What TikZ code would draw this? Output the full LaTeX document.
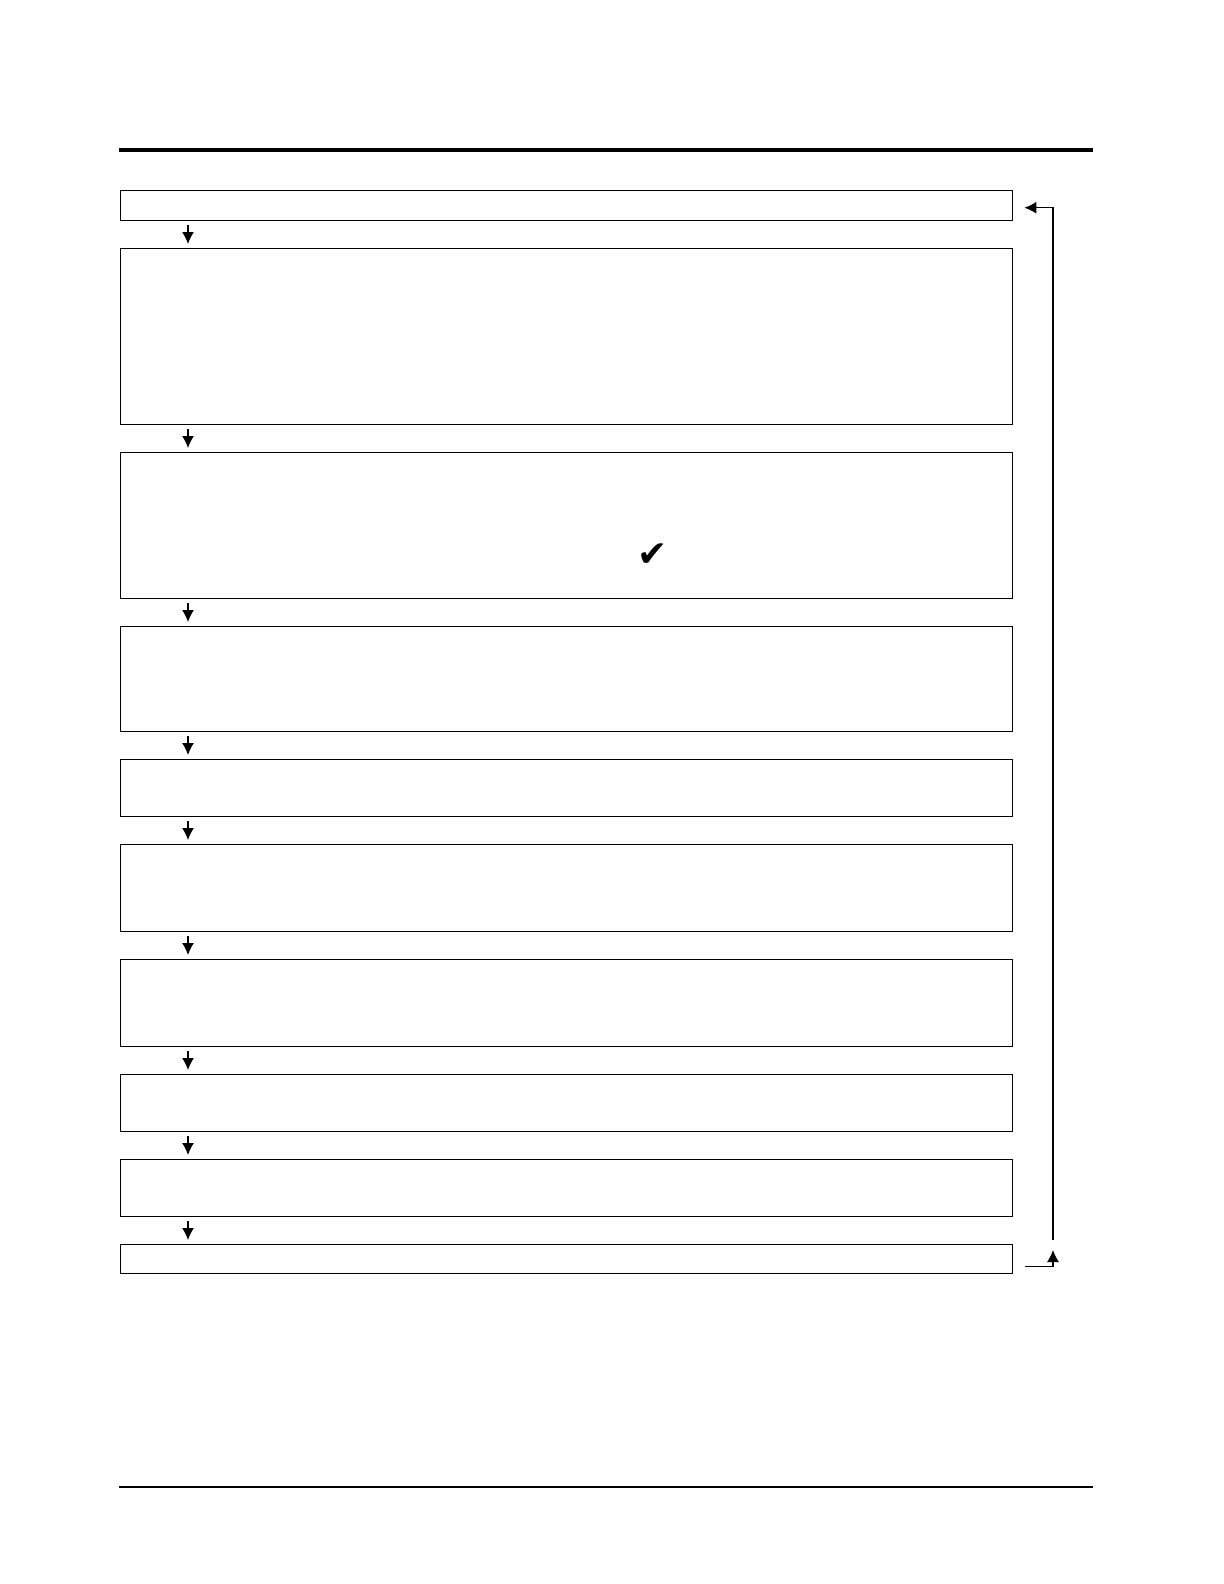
\documentclass[tikz,border=0pt]{standalone}
\usepackage{fontspec}
\newfontfamily\symfont{DejaVu Sans}
\usetikzlibrary{arrows.meta}
\usetikzlibrary{calc}

\begin{document}
\begin{tikzpicture}[x=0.5pt, y=-0.5pt,
  line/.style={>={Latex[length=6pt,width=6pt]}, line width=0.6pt},
  box/.style={draw, line width=0.7pt, inner sep=0pt, minimum width=446pt, anchor=north west}]
\useasboundingbox (0,0) rectangle (1224,1584);

% page rules
\draw[line width=2pt] (119,150) -- (1093,150);
\draw[line width=0.7pt] (119,1487) -- (1093,1487);

% the ten steps
\foreach \t/\b [count=\i] in {190/220, 248/424, 452/598, 626/731, 759/816,
    844/931, 959/1046, 1074/1131, 1159/1216, 1244/1273}
  \node[box, minimum height={(\b-\t)*0.5pt}] (s\i) at (120,\t) {};

\foreach \i [evaluate=\i as \j using int(\i+1)] in {1,...,9}
  \draw[->, line, shorten <=2pt, shorten >=2pt] ($(s\i.south west)+(68,0)$) -- ($(s\j.north west)+(68,0)$);

\node (tick) at (653,555) {\symfont\fontsize{18}{18}\selectfont ✔};

% loop back to the top
\coordinate (up) at (1053,1250);
\draw[->, line] ($(s10.south east)+(12,-8)$) -| (up);
\draw[->, line] (1053,1240) |- ($(s1.east)+(11,2)$);

\end{tikzpicture}
\end{document}
